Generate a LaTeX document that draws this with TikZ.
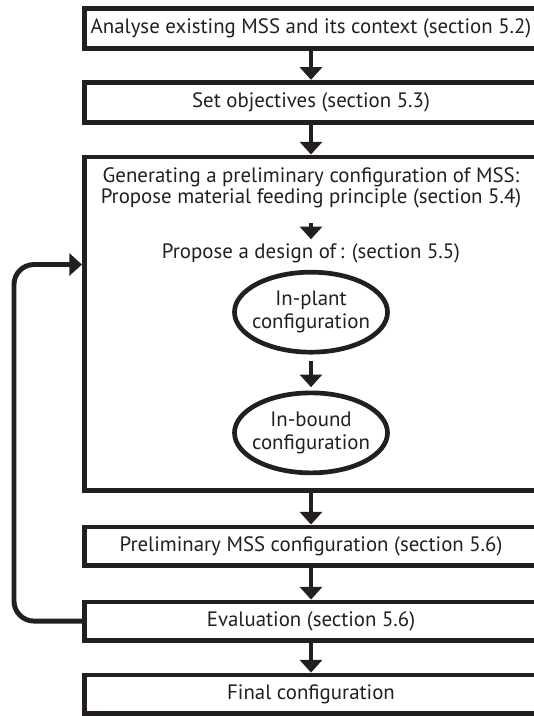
\documentclass[tikz,border=0pt]{standalone}
\usepackage{fontspec}
\setmainfont{PT Sans}
\usepackage{tikz}
\usetikzlibrary{shapes.geometric, arrows.meta, positioning, calc}
\usepackage{xcolor}
\tikzset{
    stage/.style={rectangle, draw=InkBlack, line width=4pt, text=InkBlack, minimum width=13.6cm, minimum height=1.2cm, align=center, font=\fontsize{17.8}{17.5}\selectfont},
    stage_low/.style={stage, minimum height=1.15cm},
    stage_big/.style={stage, minimum height=10.0cm},
    config/.style={ellipse, draw=InkBlack, line width=4pt, text=InkBlack, minimum width=4.59cm, minimum height=2.4cm, inner xsep=-0.7cm, align=center, font=\fontsize{17.8}{19.5}\selectfont},
    txt/.style={inner sep=0pt, text=InkBlack, align=center, font=\fontsize{17.8}{17.5}\selectfont},
    arr/.style={-{Triangle[width=0.66cm, length=0.38cm]}, line width=4.2pt, draw=InkBlack},
    arr_loop/.style={arr, rounded corners=0.6cm},
}
\definecolor{InkBlack}{HTML}{231F20}

\begin{document}
\begin{tikzpicture}[node distance=0.9cm]
\useasboundingbox (0,0) rectangle (15.99,-21.48);

% Main stages
\node[stage] (analyse) at (9.33,-0.855) {Analyse existing MSS and its context (section 5.2)};
\node[stage, below=0.87cm of analyse] (objectives) {Set objectives (section 5.3)};
\node[stage_big, below=of objectives] (generate) {};
\node[stage_low, below=0.96cm of generate] (prelim) {Preliminary MSS configuration (section 5.6)};
\node[stage_low, below=0.96cm of prelim] (evaluation) {Evaluation (section 5.6)};
\node[stage_low, below=of evaluation] (final) {Final configuration};

% Inside the generating stage
\node[txt, below=0.4cm of generate.north] (feeding) {Generating a preliminary configuration of MSS:\\Propose material feeding principle (section 5.4)};
\node[txt, below=1.05cm of feeding] (designof) {Propose a design of\,: (section 5.5)};
\node[config, below=0.2cm of designof] (inplant) {In-plant\\configuration};
\node[config, below=1.08cm of inplant] (inbound) {In-bound\\configuration};

% Arrows
\draw[arr] (analyse) -- (objectives);
\draw[arr] (objectives) -- (generate);
\draw[arr, shorten <=0.45cm, shorten >=0.12cm] (feeding) -- (designof);
\draw[arr, shorten <=0.2cm, shorten >=0.1cm] (inplant) -- (inbound);
\draw[arr] (generate) -- (prelim);
\draw[arr] (prelim) -- (evaluation);
\draw[arr] (evaluation) -- (final);

% Feedback
\draw[arr_loop] (evaluation.west) -- ++(-2.04cm,0) |- ([yshift=-3.3cm]generate.north west);

\end{tikzpicture}
\end{document}
